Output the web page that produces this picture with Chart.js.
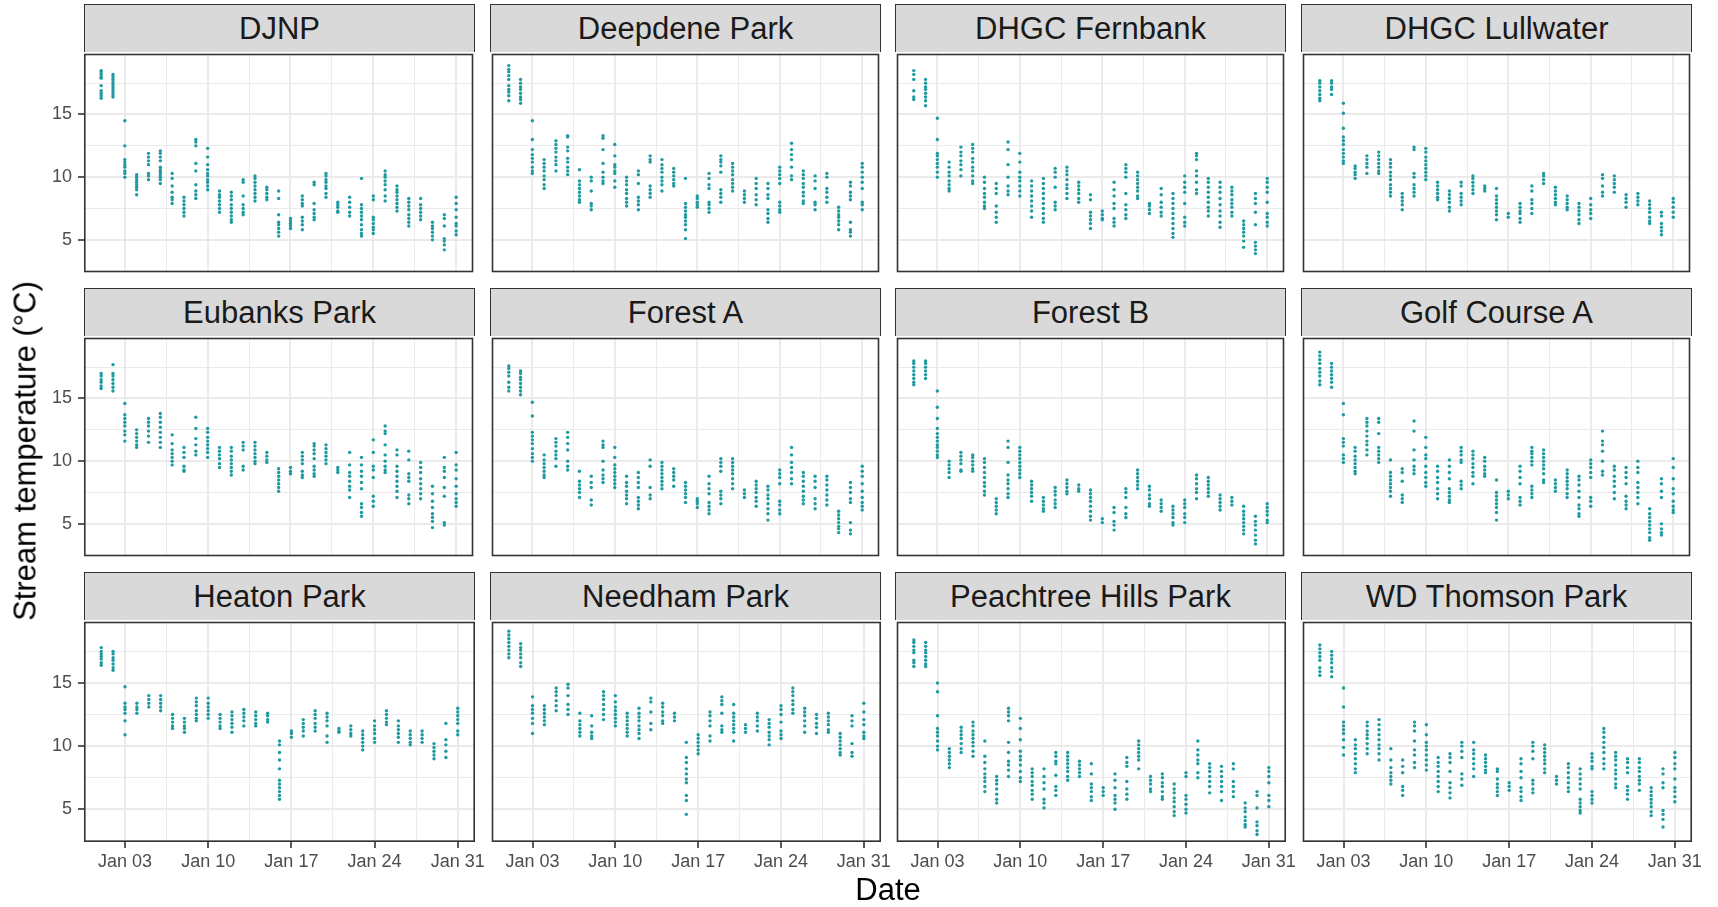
<!DOCTYPE html>
<html>
<head>
<meta charset="utf-8">
<title>Stream temperature by site, January</title>
<script src="https://cdn.jsdelivr.net/npm/chart.js@4.4.1/dist/chart.umd.min.js"></script>
<style>
  html, body { margin: 0; padding: 0; background: #ffffff; }
  body { width: 1718px; height: 907px; position: relative; overflow: hidden;
         font-family: "Liberation Sans", Arial, Helvetica, sans-serif; }
  canvas { position: absolute; }
  .strip { position: absolute; box-sizing: border-box; background: #D9D9D9;
           border: 1.6px solid #333333; border-bottom: none;
           display: flex; align-items: center; justify-content: center;
           font-size: 31px; color: #1A1A1A; white-space: nowrap; }
  .ytitle { position: absolute; font-size: 31px; line-height: 31px; color: #000;
            white-space: nowrap; transform: translate(-50%, -50%) rotate(-90deg); }
  .xtitle { position: absolute; font-size: 31px; line-height: 31px; color: #000;
            white-space: nowrap; transform: translateX(-50%); }
</style>
</head>
<body>
<script>
// Day of month for each reading cluster (1 = Jan 01)
const dayOfMonth = [1,2,3,4,5,6,7,8,9,10,11,12,13,14,15,16,17,18,19,20,21,22,23,24,25,26,27,28,29,30,31];

// Axis breaks
const xTickDays = [3, 10, 17, 24, 31];
const xTickLabels = ['Jan 03', 'Jan 10', 'Jan 17', 'Jan 24', 'Jan 31'];
const xMinorDays = [6.5, 13.5, 20.5, 27.5];
const yTickValues = [5, 10, 15];
const yTickLabels = ['5', '10', '15'];
const yMinorValues = [2.5, 7.5, 12.5, 17.5];

// Stream temperature readings (°C), one list per day, Jan 01 .. Jan 31
const djnp = [
  [18.5,18.4,18.2,18.0,17.9,17.3,16.9,16.7,16.5,16.3],
  [18.2,18.0,17.8,17.6,17.4,17.2,17.0,16.8,16.6,16.4],
  [14.5,12.5,11.4,11.2,11.0,10.8,10.5,10.3,10.0],
  [10.2,10.0,9.8,9.6,9.4,9.2,9.0,8.6],
  [11.9,11.6,11.3,11.0,10.3,10.1,9.8],
  [12.1,11.9,11.6,11.3,10.8,10.6,10.4,10.2,10.0,9.8,9.5],
  [10.3,9.9,9.3,8.8,8.4,8.2,7.9],
  [8.4,8.1,7.8,7.5,7.2,6.9],
  [13.0,12.8,12.5,11.1,10.5,9.4,8.9,8.6,8.3],
  [12.3,11.6,11.0,10.6,10.3,10.1,9.8,9.6,9.3,9.0],
  [8.9,8.6,8.4,8.1,7.8,7.5,7.2],
  [8.8,8.5,8.2,7.8,7.5,7.2,6.9,6.6,6.4],
  [9.8,9.6,8.5,7.8,7.5,7.2,7.0],
  [10.1,9.9,9.6,9.3,9.0,8.7,8.4,8.1],
  [9.2,9.0,8.7,8.4,8.2],
  [8.9,8.3,7.0,6.4,6.2,5.9,5.6,5.3],
  [6.7,6.5,6.3,6.1,5.9],
  [8.5,8.2,7.9,7.7,6.8,6.5,6.2,5.8],
  [9.6,9.4,7.9,7.4,7.1,6.8,6.6],
  [10.3,10.1,9.8,9.6,9.3,9.1,8.7,8.4],
  [8.0,7.8,7.6,7.3,7.2],
  [8.4,8.0,7.6,7.2,6.9],
  [9.9,7.8,7.5,7.2,6.9,6.6,6.2,5.8,5.5,5.3],
  [8.5,8.2,6.8,6.6,6.3,6.0,5.8,5.5],
  [10.5,10.2,10.0,9.7,9.4,9.0,8.5,8.1],
  [9.3,9.0,8.8,8.5,8.2,7.9,7.6,7.3],
  [8.3,8.0,7.7,7.4,7.0,6.7,6.4,6.1],
  [8.3,7.8,7.5,7.2,6.9,6.6],
  [6.4,6.1,5.9,5.6,5.3,5.0],
  [7.0,6.7,6.1,5.1,4.9,4.6,4.2],
  [8.4,7.9,7.4,6.8,6.3,6.1,5.7,5.4]
];

const deepdenePark = [
  [18.9,18.6,18.4,18.1,17.8,17.3,17.0,16.8,16.5,16.1],
  [17.8,17.5,17.2,17.0,16.7,16.4,16.2,15.9],
  [14.5,13.0,12.2,11.8,11.5,11.2,10.8,10.5,10.3],
  [11.4,11.1,10.8,10.5,10.1,9.8,9.4,9.1],
  [12.9,12.6,12.3,12.0,11.6,11.3,11.0,10.5],
  [13.3,13.2,12.4,12.1,11.5,11.2,10.8,10.5,10.2],
  [10.6,9.7,9.4,9.1,8.8,8.5,8.2,8.0],
  [10.0,9.7,8.9,7.9,7.7,7.4],
  [13.3,13.1,12.2,11.1,10.4,10.0,9.7,9.5],
  [12.6,11.7,11.0,10.8,10.5,10.3,9.7,9.2],
  [10.0,9.7,9.4,9.0,8.7,8.3,8.0,7.7],
  [10.5,10.2,9.5,8.4,8.1,7.8,7.4],
  [11.7,11.4,11.2,9.3,9.0,8.7,8.4],
  [11.4,11.0,10.7,10.4,10.0,9.7,9.4,8.9],
  [10.7,10.4,10.1,9.8,9.5,9.3],
  [9.9,7.9,7.6,7.3,7.0,6.8,6.5,6.2,5.8,5.1],
  [8.5,8.3,8.0,7.8,7.6],
  [10.3,9.9,9.4,9.1,8.0,7.8,7.5,7.2],
  [11.7,11.4,11.2,10.9,10.4,9.0,8.7,8.4,8.0],
  [11.1,10.8,10.5,10.2,9.8,9.5,9.2,8.9],
  [8.9,8.6,8.3,8.0],
  [9.9,9.5,9.1,8.6,8.2,7.8],
  [9.5,9.1,8.6,8.3,7.4,7.1,6.7,6.4],
  [10.8,10.5,10.2,9.9,9.5,8.0,7.7,7.4,7.2],
  [12.7,12.2,11.8,11.4,10.8,10.1,9.8],
  [10.5,10.2,9.9,9.5,9.2,8.8,8.5,8.1,7.9],
  [10.1,9.7,9.1,8.0,7.8,7.4],
  [10.3,10.0,9.1,8.8,8.4,8.0],
  [7.6,7.3,7.0,6.8,6.5,6.2,5.8],
  [9.6,9.3,8.8,8.5,8.2,6.4,5.8,5.6,5.3],
  [11.1,10.8,10.4,10.0,9.6,9.1,8.0,7.8,7.4]
];

const dhgcFernbank = [
  [18.5,18.2,17.8,16.9,16.4,16.2],
  [17.8,17.5,17.2,17.0,16.7,16.4,16.1,15.7],
  [14.7,13.0,11.9,11.7,11.4,11.1,10.8,10.4,10.0],
  [11.2,10.8,10.4,10.1,9.7,9.4,9.1,8.9],
  [12.4,12.0,11.7,11.3,11.0,10.6,10.1],
  [12.6,12.3,12.0,11.5,11.2,10.8,10.5,10.1,9.7,9.5],
  [10.0,9.6,9.1,8.7,8.4,8.0,7.7,7.5],
  [9.5,9.1,8.7,7.7,7.2,6.8,6.4],
  [12.8,12.2,11.0,10.0,9.3,8.9,8.6],
  [11.9,11.2,10.4,10.0,9.7,9.3,8.9,8.5],
  [9.7,9.3,8.9,8.5,8.1,7.7,7.3,6.8],
  [9.9,9.5,9.1,8.7,8.3,7.9,7.5,7.1,6.7,6.4],
  [10.7,10.4,10.0,9.2,8.0,7.7,7.4],
  [10.8,10.5,10.2,9.8,9.4,9.1,8.7,8.3],
  [9.6,9.3,9.0,8.7,8.3,8.0],
  [8.6,8.2,7.2,6.9,6.6,6.3,5.9],
  [7.3,7.0,6.7,6.6],
  [9.6,9.0,8.5,7.9,7.5,6.7,6.4,6.1],
  [11.0,10.7,10.4,10.0,8.7,7.8,7.4,7.0,6.7],
  [10.4,10.1,9.8,9.5,9.2,8.9,8.5,8.3],
  [7.9,7.7,7.4,7.1],
  [9.1,8.6,8.0,7.6,7.2,6.9],
  [8.7,8.3,7.9,7.5,7.1,6.7,6.3,5.9,5.5,5.2],
  [10.1,9.6,9.2,8.8,7.9,6.8,6.4,6.1],
  [11.9,11.7,11.4,10.5,10.1,9.6,9.0,8.7],
  [9.9,9.6,9.2,8.8,8.4,8.0,7.6,7.3,6.9],
  [9.6,9.2,8.8,8.3,7.8,7.3,6.9,6.4,6.0],
  [9.2,8.9,8.6,8.2,7.9,7.6,7.2,6.9],
  [6.5,6.2,5.9,5.6,5.3,4.9,4.4],
  [8.7,8.3,7.9,7.2,6.2,4.8,4.5,4.2,3.9],
  [9.9,9.6,9.2,8.8,8.0,7.1,6.8,6.4,6.1]
];

const dhgcLullwater = [
  [17.7,17.5,17.2,16.9,16.6,16.3,16.1],
  [17.7,17.5,17.2,17.0,16.6],
  [15.9,15.1,13.9,13.2,12.9,12.6,12.2,11.9,11.6,11.3,11.1],
  [10.9,10.7,10.4,10.2,9.9],
  [11.7,11.4,11.1,10.8,10.3],
  [12.0,11.7,11.4,11.1,10.8,10.5,10.3],
  [11.4,11.1,10.8,10.4,10.1,9.8,9.4,9.1,8.8,8.5],
  [8.7,8.4,8.1,7.8,7.4],
  [12.4,12.2,10.3,10.0,9.4,9.1,8.8,8.5],
  [12.3,12.0,11.6,11.3,11.0,10.7,10.4,10.1,9.8],
  [9.6,9.3,9.0,8.7,8.4,8.2],
  [8.9,8.6,8.3,8.0,7.6,7.3],
  [9.6,9.3,8.7,8.4,8.1,7.8],
  [10.1,9.9,9.6,9.3,9.0,8.7],
  [9.3,9.1,8.9],
  [9.1,8.5,8.2,7.9,7.6,7.3,7.0,6.6],
  [7.1,6.8],
  [7.9,7.6,7.3,7.1,6.7,6.4],
  [9.3,8.9,8.2,7.9,7.5,7.1],
  [10.3,10.1,9.8,9.5],
  [9.2,8.9,8.6,8.3,8.0,7.8],
  [8.5,8.2,7.9,7.6,7.4],
  [7.9,7.6,7.3,7.0,6.6,6.3],
  [8.3,7.8,7.4,7.1,6.7],
  [10.2,9.9,9.3,8.8,8.5],
  [10.1,9.8,9.5,9.2,8.8],
  [8.6,8.3,8.0,7.6],
  [8.7,8.4,8.1,7.8],
  [8.1,7.8,7.5,7.2,6.8,6.5,6.3],
  [7.2,6.9,6.3,6.0,5.7,5.4],
  [8.3,8.0,7.6,7.2,6.8]
];

const eubanksPark = [
  [17.0,16.8,16.5,16.3,16.0,15.8],
  [17.7,17.0,16.8,16.5,16.2,15.9,15.6],
  [14.6,13.7,13.4,13.1,12.8,12.4,12.1,11.6],
  [12.5,12.2,11.9,11.6,11.3,11.1],
  [13.4,13.1,12.8,12.4,12.0,11.5],
  [13.8,13.5,13.1,12.7,12.3,11.9,11.5,11.1],
  [12.1,11.4,10.9,10.6,10.3,10.0,9.7],
  [11.1,10.7,10.3,9.6,9.3,9.2],
  [13.5,12.6,11.8,11.3,10.8,10.5],
  [12.6,12.3,11.9,11.6,11.3,11.0,10.7,10.3],
  [11.1,10.8,10.5,10.2,9.8,9.5],
  [11.1,10.8,10.4,10.1,9.8,9.5,9.2,8.9],
  [11.5,11.2,10.9,9.6,9.3],
  [11.5,11.2,10.9,10.6,10.3,10.0,9.8],
  [10.7,10.4,10.1,9.9],
  [9.4,9.1,8.8,8.5,8.2,7.9,7.6],
  [9.5,9.2,9.0],
  [10.7,10.4,10.1,9.8,9.2,8.9,8.7],
  [11.4,11.2,10.9,10.6,10.2,9.6,9.3,9.0,8.8],
  [11.3,11.0,10.7,10.4,10.1,9.8],
  [9.5,9.3,9.1],
  [10.7,9.7,9.1,8.8,8.4,8.0,7.7,7.1],
  [10.3,9.7,9.2,8.8,8.3,7.8,6.6,6.3,5.9,5.6],
  [11.7,10.7,9.6,9.3,8.7,7.2,6.8,6.4],
  [12.8,12.4,12.2,11.3,10.5,10.0,9.6,9.3,9.1],
  [10.9,10.5,9.6,9.2,8.8,8.4,8.0,7.6,7.1],
  [10.8,10.1,9.0,8.7,8.4,7.3,7.0,6.6],
  [9.9,9.5,9.1,8.6,8.2,7.8,7.4,7.0],
  [8.0,7.4,6.8,6.3,5.8,5.5,5.2,4.7],
  [10.3,9.5,9.2,8.7,7.9,7.2,5.1,4.9],
  [10.7,9.7,9.3,8.6,8.0,7.4,7.0,6.7,6.4]
];

const forestA = [
  [17.6,17.4,17.1,16.8,16.3,15.9,15.6],
  [17.2,17.0,16.7,16.5,16.2,15.9,15.6,15.3],
  [14.7,13.6,12.3,12.0,11.7,11.4,11.0,10.6,10.3,10.0],
  [10.5,10.1,9.8,9.5,9.2,8.9,8.7],
  [11.8,11.5,11.2,10.8,10.5,10.2,9.6],
  [12.3,11.9,11.4,10.9,10.0,9.6,9.3],
  [9.2,8.4,8.1,7.8,7.5,7.1],
  [8.8,8.3,7.9,6.9,6.5],
  [11.6,11.3,11.1,10.0,9.3,8.9,8.6,8.3],
  [11.1,10.3,9.7,9.4,9.1,8.8,8.5,8.2,7.9],
  [8.8,8.3,8.0,7.6,7.3,7.0,6.6],
  [9.1,8.7,8.3,7.9,7.1,6.8,6.5,6.2],
  [10.1,9.6,7.9,7.3,7.0],
  [9.9,9.6,9.3,9.0,8.7,8.4,8.1,7.8],
  [9.4,9.1,8.8,8.5,8.0],
  [8.3,8.0,7.7,7.4,7.1,6.7],
  [7.0,6.8,6.6,6.3],
  [8.8,8.2,7.8,7.4,6.7,6.4,6.1,5.8],
  [10.2,9.9,9.6,9.2,7.6,7.3,7.0,6.6],
  [10.2,9.9,9.6,9.3,9.0,8.6,8.2,7.8],
  [7.7,7.4,7.1],
  [8.4,8.1,7.8,7.5,7.1,6.8,6.4],
  [8.0,7.7,7.3,7.0,6.6,6.2,5.8,5.3],
  [9.3,9.0,8.7,8.2,6.8,6.5,6.1,5.8],
  [11.1,10.5,9.9,9.5,9.1,8.6,8.2],
  [9.1,8.8,8.4,8.0,7.6,7.2,6.9,6.6],
  [8.8,8.4,7.9,7.0,6.6,6.2],
  [8.8,8.5,8.1,7.7,7.3,6.9,6.5],
  [6.0,5.7,5.4,5.1,4.8,4.6,4.3],
  [8.3,7.9,7.5,7.0,6.7,5.1,4.5,4.2],
  [9.6,9.2,8.8,8.2,7.6,7.1,6.7,6.4,6.1]
];

const forestB = [
  [18.0,17.8,17.5,17.2,16.9,16.6,16.3,16.1],
  [18.0,17.8,17.5,17.2,16.9,16.6],
  [15.6,14.3,13.4,12.6,12.2,11.9,11.6,11.3,11.1,10.8,10.5,10.3],
  [10.0,9.7,9.4,9.1,8.7],
  [10.7,10.4,10.1,9.8,9.3,9.2],
  [10.5,10.3,10.0,9.7,9.4,9.2],
  [10.2,9.9,9.5,9.1,8.7,8.3,8.0,7.6,7.3],
  [7.0,6.7,6.4,6.1,5.8],
  [11.6,11.1,9.9,8.9,8.5,8.2,7.8,7.4,7.1],
  [11.1,10.8,10.5,10.2,9.9,9.6,9.3,9.0,8.7],
  [8.4,8.1,7.8,7.5,7.2,6.8],
  [7.1,6.8,6.5,6.2,6.0],
  [7.9,7.6,7.3,6.9,6.6,6.3],
  [8.5,8.2,7.9,7.6,7.4],
  [8.1,7.8,7.6],
  [7.7,7.4,7.1,6.8,6.4,6.0,5.6,5.3],
  [5.4,5.1],
  [6.3,5.9,5.2,4.9,4.5],
  [7.8,7.5,7.1,6.3,5.8,5.5],
  [9.3,9.0,8.7,8.4,8.1,7.8],
  [8.0,7.7,7.3,7.0,6.6,6.4],
  [6.9,6.6,6.3,6.0],
  [6.4,6.1,5.8,5.5,5.1,4.9],
  [6.9,6.6,6.3,5.8,5.5,5.1],
  [8.9,8.6,8.2,7.8,7.5,7.0],
  [8.7,8.4,8.1,7.8,7.5,7.2],
  [7.3,7.0,6.7,6.4,6.1],
  [7.1,6.8,6.5],
  [6.4,6.0,5.7,5.4,5.1,4.8,4.5,4.2],
  [5.6,5.2,4.9,4.5,4.1,3.7,3.4],
  [6.6,6.3,6.0,5.7,5.3,5.1]
];

const golfCourseA = [
  [18.7,18.4,18.1,17.8,17.4,17.1,16.8,16.4,16.1],
  [17.8,17.5,17.2,16.9,16.6,16.3,15.9],
  [14.6,13.7,11.8,11.5,11.2,10.5,10.2,9.9],
  [11.1,10.8,10.4,10.1,9.8,9.5,9.2,9.0],
  [13.4,13.1,12.8,12.4,12.0,11.6,11.3,10.9,10.5],
  [13.4,13.1,12.2,11.1,10.8,10.5,10.2,9.9],
  [10.1,9.1,8.8,8.5,8.2,7.9,7.6,7.2],
  [9.4,9.1,8.4,7.3,7.0,6.7],
  [13.2,12.4,10.9,10.1,9.6,9.3,9.0],
  [11.9,11.1,10.5,10.2,9.6,9.1,8.7,8.3,8.0],
  [9.6,9.2,8.7,8.3,7.8,7.4,7.0],
  [10.1,9.6,9.1,8.6,7.8,7.5,7.2,6.9,6.7],
  [11.1,10.8,10.5,10.1,9.9,8.4,8.1,7.8],
  [10.8,10.5,10.2,9.8,9.5,9.1,8.8,8.2],
  [10.3,10.0,9.6,9.3,9.0,8.8],
  [8.5,7.5,7.2,6.9,6.6,6.3,5.9,5.3],
  [7.6,7.3,7.0],
  [9.6,9.2,8.7,8.2,7.1,6.8,6.5],
  [11.1,10.8,10.6,10.3,10.0,9.7,8.0,7.7,7.4,7.1],
  [10.9,10.6,10.3,10.0,9.7,9.4,9.0,8.5,8.3],
  [8.5,8.2,7.9,7.6],
  [9.3,9.0,8.7,8.4,8.1,7.8,7.4,7.1],
  [8.8,8.5,8.1,7.6,7.1,6.5,6.2,5.8,5.6],
  [10.1,9.8,9.5,9.1,8.7,7.1,6.8,6.4],
  [12.4,11.6,11.3,10.8,10.0,9.2,8.9],
  [9.6,9.3,8.8,8.4,8.0,7.5,7.0],
  [9.5,9.1,8.7,8.2,7.2,6.8,6.5,6.2],
  [10.0,9.5,9.1,8.3,7.9,7.5,7.1,6.6],
  [6.2,5.8,5.5,5.2,4.9,4.6,4.3,3.9,3.7],
  [8.6,8.2,7.6,7.1,5.0,4.6,4.3,4.1],
  [10.2,9.5,8.6,7.8,7.4,6.8,6.4,6.1,5.9]
];

const heatonPark = [
  [17.8,17.5,17.3,17.1,16.9,16.6,16.4],
  [17.5,17.3,17.0,16.8,16.5,16.2,16.0],
  [14.7,13.4,13.1,12.9,12.6,12.0,10.9],
  [13.4,13.1,12.9,12.6],
  [14.0,13.7,13.4,13.1],
  [14.0,13.7,13.4,13.1,12.8],
  [12.5,12.2,11.9,11.6,11.4],
  [12.2,11.9,11.6,11.4,11.1],
  [13.8,13.5,13.2,12.8,12.5,12.2,12.0],
  [13.8,13.4,13.1,12.8,12.5,12.2],
  [12.5,12.2,11.9,11.6,11.4],
  [12.7,12.4,12.1,11.8,11.5,11.1],
  [12.9,12.6,12.3,12.0,11.6],
  [12.7,12.4,12.1,11.8,11.6],
  [12.6,12.4,12.1,11.9],
  [10.4,10.1,9.5,8.9,8.2,7.3,7.0,6.7,6.4,6.1,5.8],
  [11.2,11.0,10.7],
  [12.1,11.8,11.5,11.2,10.8],
  [12.8,12.5,12.2,11.8,11.5,11.2],
  [12.6,12.3,12.0,11.6,10.8,10.3],
  [11.4,11.2,11.1],
  [11.6,11.3,11.0,10.8],
  [11.2,10.9,10.6,10.3,10.0,9.7],
  [12.0,11.6,11.3,11.0,10.6,10.3],
  [12.8,12.5,12.2,11.9,11.7],
  [12.0,11.6,11.3,11.0,10.7,10.3],
  [11.2,10.9,10.6,10.3,10.1],
  [11.2,10.9,10.6,10.3],
  [10.2,9.9,9.6,9.3,9.0],
  [11.8,10.5,10.1,9.6,9.1],
  [13.0,12.7,12.4,12.1,11.8,11.2,10.9]
];

const needhamPark = [
  [19.1,18.8,18.5,18.2,17.9,17.6,17.3,17.0],
  [18.1,17.8,17.6,17.3,17.0,16.6,16.3],
  [13.9,13.2,12.9,12.6,12.2,11.8,11.0],
  [13.2,12.9,12.6,12.3,12.0,11.7],
  [14.6,14.3,14.0,13.6,13.2,12.8],
  [14.9,14.6,14.0,13.3,12.9,12.5],
  [12.6,12.0,11.7,11.4,11.1,10.8],
  [12.4,11.6,11.1,10.8,10.6],
  [14.3,14.0,13.7,13.3,12.9,12.5,12.1],
  [14.0,13.5,13.1,12.8,12.5,12.2,11.9,11.6],
  [12.6,12.3,12.0,11.7,11.4,11.1,10.8],
  [13.0,12.6,12.3,12.0,11.6,11.3,11.0,10.6],
  [13.8,13.5,12.7,11.8,11.3],
  [13.4,13.1,12.7,12.4,12.0,11.8],
  [12.6,12.3,12.0],
  [10.3,9.1,8.7,8.2,7.8,7.4,7.1,6.1,5.7,4.6],
  [10.9,10.6,10.3,10.0,9.7,9.4],
  [12.7,12.4,12.0,11.6,10.8,10.4],
  [13.9,13.6,13.3,12.6,11.6,11.3,11.1],
  [13.3,12.6,12.3,12.0,11.7,11.4,11.1,10.4],
  [11.7,11.4,11.1],
  [12.6,12.3,12.0,11.6,11.2],
  [12.1,11.8,11.5,11.1,10.8,10.5,10.1],
  [13.2,12.9,12.5,11.9,11.2,10.9,10.6],
  [14.6,14.3,14.0,13.6,13.3,12.9,12.6],
  [13.0,12.7,12.4,12.0,11.6,11.1],
  [12.5,12.2,11.8,11.5,11.0],
  [12.6,12.3,12.0,11.7,11.3,11.1],
  [11.0,10.7,10.4,10.1,9.8,9.5,9.3],
  [12.4,12.0,11.6,10.2,9.5,9.2],
  [13.4,12.7,12.1,11.7,11.1,10.8,10.6]
];

const peachtreeHillsPark = [
  [18.4,18.2,17.9,17.6,17.4,16.8,16.6,16.3],
  [18.2,17.9,17.6,17.4,17.1,16.8,16.5,16.3],
  [15.0,14.3,12.4,11.4,11.1,10.8,10.4,10.0,9.7],
  [9.8,9.5,9.2,8.9,8.6,8.3],
  [11.5,11.2,10.9,10.6,10.2,9.8,9.5],
  [11.9,11.6,11.2,10.9,10.6,10.3,10.0,9.6,9.2],
  [10.4,9.2,8.7,8.2,7.8,7.5,7.2,6.8,6.4],
  [7.6,7.3,7.0,6.6,6.2,5.8,5.5],
  [13.0,12.7,12.4,12.0,10.3,9.5,8.8,8.5,8.1,7.6],
  [12.2,11.4,10.5,9.6,9.2,8.9,8.5,8.0,7.5,7.2],
  [8.2,7.9,7.6,7.2,6.9,6.5,6.2,5.8],
  [8.2,7.6,7.1,6.6,5.8,5.5,5.1],
  [9.5,9.2,8.8,8.6,7.7,6.8,6.5,6.1],
  [9.5,9.2,8.9,8.6,8.3,8.0,7.6,7.3],
  [8.8,8.5,8.2,7.9,7.6],
  [8.6,7.8,7.0,6.7,6.4,6.0,5.7],
  [6.7,6.4,6.1],
  [7.8,7.3,6.7,6.1,5.8,5.5,5.0],
  [9.1,8.7,8.4,7.2,6.6,6.2,5.8],
  [10.4,10.1,9.8,9.5,9.2,8.9,8.2],
  [7.6,7.3,7.0,6.6,6.4],
  [7.8,7.5,7.1,6.8,6.4,6.0,5.8],
  [7.0,6.6,6.3,5.9,5.6,5.2,4.8,4.5],
  [7.9,7.6,6.1,5.8,5.4,5.0,4.7],
  [10.4,9.7,9.3,8.9,8.6,7.9,7.5],
  [8.6,8.3,8.0,7.6,7.2,6.8,6.3],
  [8.4,8.0,7.6,7.2,6.8,6.4,5.7],
  [8.6,8.2,7.2,6.8,6.4,6.0],
  [5.5,5.1,4.8,4.4,4.1,3.8,3.6],
  [6.4,6.1,5.1,4.0,3.7,3.3,3.0],
  [8.3,8.0,7.6,7.1,6.1,5.7,5.2]
];

const wdThomsonPark = [
  [18.0,17.7,17.4,17.1,16.8,16.2,15.9,15.6],
  [17.5,17.2,16.9,16.6,16.2,15.9,15.5],
  [14.6,13.1,11.9,11.6,11.3,11.0,10.5,9.9,9.3],
  [10.5,10.1,9.8,9.4,9.0,8.6,8.2,7.9],
  [11.9,11.6,11.2,10.9,10.6,10.2,9.8,9.4],
  [12.1,11.7,11.3,10.9,10.5,10.1,9.8,9.4,8.9],
  [9.8,8.9,8.3,7.9,7.6,7.3,7.0],
  [8.9,8.4,7.9,6.8,6.5,6.1],
  [11.9,11.6,11.2,10.4,9.7,9.3,8.7,8.3],
  [11.7,10.9,10.3,10.0,9.7,9.3,8.9,8.5,8.1],
  [9.1,8.7,8.4,8.0,7.6,7.2,6.8,6.4],
  [9.4,9.1,8.7,8.0,7.1,6.7,6.3,5.9],
  [10.3,10.0,9.6,9.1,7.8,7.4,6.9],
  [10.3,9.7,9.4,9.0,8.6,8.2,7.6],
  [9.3,9.0,8.7,8.4,8.1,7.9],
  [8.2,8.0,7.4,7.0,6.7,6.4,6.1],
  [7.1,6.8,6.5],
  [9.0,8.6,8.0,7.5,6.7,6.4,6.0,5.7],
  [10.3,10.0,9.6,9.0,7.3,7.0,6.6,6.3],
  [10.1,9.8,9.5,9.2,8.9,8.6,8.2,7.9],
  [7.6,7.3,7.0],
  [8.6,8.3,7.9,7.5,7.1,6.7,6.4],
  [8.2,7.8,7.4,7.0,6.6,5.8,5.5,5.2,4.9,4.7],
  [9.4,9.1,8.8,8.4,8.2,6.4,6.1,5.8,5.5],
  [11.4,11.1,10.7,10.3,9.9,9.5,9.0,8.6,8.2],
  [9.5,9.2,8.9,8.5,8.1,7.8,7.4,7.0,6.7],
  [9.0,8.7,8.3,7.9,6.8,6.5,6.2,5.8],
  [9.0,8.7,8.3,8.0,7.6,7.3,7.0,6.5],
  [6.7,6.4,6.1,5.8,5.5,5.2,4.8,4.5],
  [8.2,7.8,7.1,6.7,4.9,4.6,4.2,3.6],
  [9.5,9.1,8.6,8.2,7.4,6.7,6.4,6.0,5.6]
];

const siteNames = ['DJNP', 'Deepdene Park', 'DHGC Fernbank', 'DHGC Lullwater',
                   'Eubanks Park', 'Forest A', 'Forest B', 'Golf Course A',
                   'Heaton Park', 'Needham Park', 'Peachtree Hills Park', 'WD Thomson Park'];
const siteReadings = [djnp, deepdenePark, dhgcFernbank, dhgcLullwater,
                      eubanksPark, forestA, forestB, golfCourseA,
                      heatonPark, needhamPark, peachtreeHillsPark, wdThomsonPark];

// ---- facet layout (pixels) ----
const COL_LEFT = [84, 490, 895, 1301];
const ROW_TOP = [52, 336, 620];
const PLOT_W = 391, PLOT_H = 222, STRIP_H = 48;
const Y_AXIS_W = 84, X_AXIS_H = 65, RIGHT_OVERHANG = 26;
const X_MIN = -0.45, X_MAX = 32.45;
const Y_MIN = 2.41, Y_MAX = 19.85;
const POINT_COLOR = '#1F9AA0';
const GRID_COLOR = '#EBEBEB';
const FONT = '"Liberation Sans", Arial, Helvetica, sans-serif';

const panelFrame = {
  id: 'panelFrame',
  afterDraw(chart) {
    const a = chart.chartArea, ctx = chart.ctx, lw = 1.6;
    ctx.save();
    ctx.strokeStyle = '#333333';
    ctx.lineWidth = lw;
    ctx.strokeRect(a.left + lw / 2, a.top + lw / 2, a.right - a.left - lw, a.bottom - a.top - lw);
    ctx.restore();
  }
};

function isMajorX(v) { return xTickDays.indexOf(v) >= 0; }
function isMajorY(v) { return yTickValues.indexOf(v) >= 0; }

function buildPanel(idx) {
  const col = idx % 4, row = Math.floor(idx / 4);
  const showY = col === 0, showX = row === 2;
  const yW = showY ? Y_AXIS_W : 0;
  const xH = showX ? X_AXIS_H : 0;
  const padR = showX ? RIGHT_OVERHANG : 0;

  // strip header
  const strip = document.createElement('div');
  strip.className = 'strip';
  strip.style.left = COL_LEFT[col] + 'px';
  strip.style.top = (ROW_TOP[row] - STRIP_H) + 'px';
  strip.style.width = PLOT_W + 'px';
  strip.style.height = STRIP_H + 'px';
  strip.textContent = siteNames[idx];
  document.body.appendChild(strip);

  // canvas
  const canvas = document.createElement('canvas');
  const cw = yW + PLOT_W + padR, ch = PLOT_H + xH;
  canvas.width = cw; canvas.height = ch;
  canvas.style.width = cw + 'px'; canvas.style.height = ch + 'px';
  canvas.style.left = (COL_LEFT[col] - yW) + 'px';
  canvas.style.top = ROW_TOP[row] + 'px';
  document.body.appendChild(canvas);

  const points = [];
  siteReadings[idx].forEach((vals, i) => {
    vals.forEach(v => points.push({ x: dayOfMonth[i], y: v }));
  });

  new Chart(canvas, {
    type: 'scatter',
    data: {
      datasets: [{
        data: points,
        pointRadius: 1.7,
        pointHoverRadius: 1.7,
        pointBorderWidth: 0,
        pointBackgroundColor: POINT_COLOR,
        showLine: false
      }]
    },
    options: {
      responsive: false,
      animation: false,
      devicePixelRatio: 1,
      events: [],
      layout: { padding: { left: 0, top: 0, bottom: 0, right: padR } },
      plugins: { legend: { display: false }, tooltip: { enabled: false }, title: { display: false } },
      scales: {
        x: {
          type: 'linear', position: 'bottom', min: X_MIN, max: X_MAX,
          afterBuildTicks: s => {
            s.ticks = xTickDays.concat(xMinorDays).sort((a, b) => a - b).map(v => ({ value: v }));
          },
          afterFit: s => { s.height = xH; s.paddingLeft = 0; s.paddingRight = 0; },
          border: { display: false },
          grid: {
            color: GRID_COLOR,
            lineWidth: c => (c.tick && isMajorX(c.tick.value)) ? 2 : 1,
            drawTicks: showX,
            tickLength: 6,
            tickWidth: 1.6,
            tickColor: c => (c.tick && isMajorX(c.tick.value)) ? '#333333' : 'rgba(0,0,0,0)'
          },
          ticks: {
            display: showX, autoSkip: false, maxRotation: 0, minRotation: 0,
            padding: 3, color: '#4D4D4D', font: { family: FONT, size: 18 },
            callback: v => { const k = xTickDays.indexOf(v); return k >= 0 ? xTickLabels[k] : ''; }
          }
        },
        y: {
          type: 'linear', position: 'left', min: Y_MIN, max: Y_MAX,
          afterBuildTicks: s => {
            s.ticks = yTickValues.concat(yMinorValues).sort((a, b) => a - b).map(v => ({ value: v }));
          },
          afterFit: s => { s.width = yW; s.paddingTop = 0; s.paddingBottom = 0; },
          border: { display: false },
          grid: {
            color: GRID_COLOR,
            lineWidth: c => (c.tick && isMajorY(c.tick.value)) ? 2 : 1,
            drawTicks: showY,
            tickLength: 6,
            tickWidth: 1.6,
            tickColor: c => (c.tick && isMajorY(c.tick.value)) ? '#333333' : 'rgba(0,0,0,0)'
          },
          ticks: {
            display: showY, autoSkip: false,
            padding: 6, color: '#4D4D4D', font: { family: FONT, size: 18 },
            callback: v => { const k = yTickValues.indexOf(v); return k >= 0 ? yTickLabels[k] : ''; }
          }
        }
      }
    },
    plugins: [panelFrame]
  });
}

for (let i = 0; i < siteNames.length; i++) buildPanel(i);

// axis titles
const yTitle = document.createElement('div');
yTitle.className = 'ytitle';
yTitle.textContent = 'Stream temperature (°C)';
yTitle.style.left = '25px';
yTitle.style.top = '451px';
document.body.appendChild(yTitle);

const xTitle = document.createElement('div');
xTitle.className = 'xtitle';
xTitle.textContent = 'Date';
xTitle.style.left = '888px';
xTitle.style.top = '874px';
document.body.appendChild(xTitle);
</script>
</body>
</html>
